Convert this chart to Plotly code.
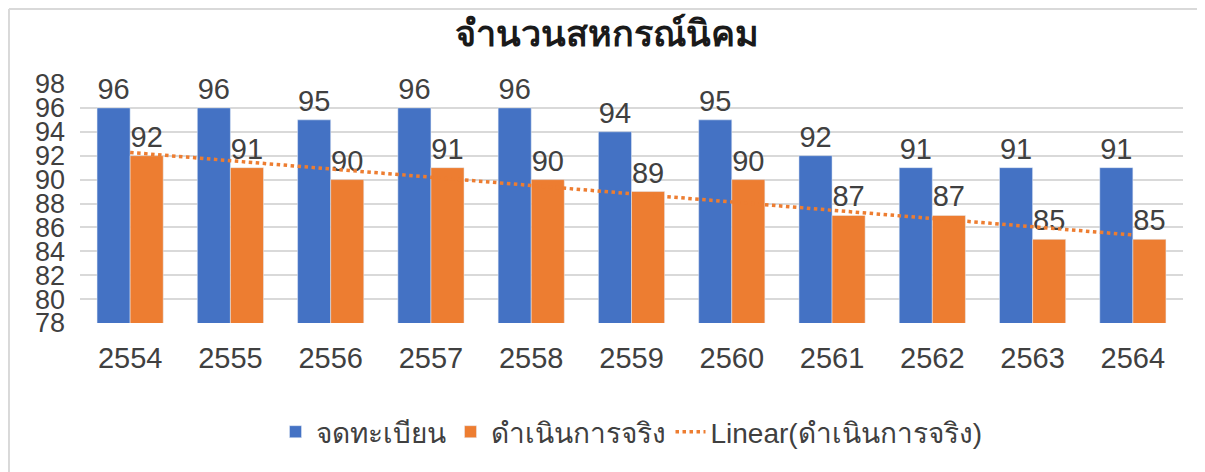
import numpy as np
import plotly.graph_objects as go

years = ["2554", "2555", "2556", "2557", "2558", "2559", "2560", "2561", "2562", "2563", "2564"]
registered = [96, 96, 95, 96, 96, 94, 95, 92, 91, 91, 91]
operating = [92, 91, 90, 91, 90, 89, 90, 87, 87, 85, 85]

name_reg = "จดทะเบียน"
name_op = "ดำเนินการจริง"
title_text = "จำนวนสหกรณ์นิคม"

# linear trendline computed from the operating series (as Excel does)
xi = np.arange(1, len(operating) + 1)
slope, intercept = np.polyfit(xi, operating, 1)
trend = slope * xi + intercept

FONT = "Liberation Sans, Arial, Noto Sans, sans-serif"
BLUE = "#4472C4"
ORANGE = "#ED7D31"
TXT = "#404040"

fig = go.Figure()
fig.add_trace(go.Bar(x=years, y=registered, name=name_reg, marker_color=BLUE,
                     text=registered, textposition="outside", constraintext="none",
                     textfont=dict(size=29, color=TXT, family=FONT),
                     cliponaxis=False))
fig.add_trace(go.Bar(x=years, y=operating, name=name_op, marker_color=ORANGE,
                     text=operating, textposition="outside", constraintext="none",
                     textfont=dict(size=29, color=TXT, family=FONT),
                     cliponaxis=False))
fig.add_trace(go.Scatter(x=years, y=trend, mode="lines", name="Linear(" + name_op + ")",
                         line=dict(color=ORANGE, width=3.5, dash="dot"), cliponaxis=False))

fig.update_layout(
    width=1197, height=464,
    margin=dict(l=72, r=22, t=76, b=149),
    paper_bgcolor="white", plot_bgcolor="white",
    barmode="group", bargap=0.34, bargroupgap=0,
    font=dict(family=FONT, color=TXT),
    title=dict(text="<b>" + title_text + "</b>", x=0.5, xanchor="center",
               y=0.945, yanchor="middle",
               font=dict(size=36, color="#1a1a1a", family=FONT)),
    legend=dict(orientation="h", x=0.5, xanchor="center", y=-0.456, yanchor="middle",
                font=dict(size=28, color=TXT, family=FONT),
                itemwidth=30, traceorder="normal"),
)
fig.update_yaxes(range=[78, 98], dtick=2, showgrid=True, gridcolor="#D9D9D9", gridwidth=1.5,
                 zeroline=False, showline=False,
                 tickfont=dict(size=27, color=TXT, family=FONT), ticks="", ticklabelstandoff=14)
fig.update_xaxes(showgrid=False, showline=False, ticks="",
                 tickfont=dict(size=29, color=TXT, family=FONT), ticklabelstandoff=15)

# light frame lines (top and left) as in the screenshot
fig.add_shape(type="line", xref="paper", yref="paper", x0=-0.0644, x1=1.02, y0=1.3138, y1=1.3138,
              line=dict(color="#D9D9D9", width=2))
fig.add_shape(type="line", xref="paper", yref="paper", x0=-0.0644, x1=-0.0644, y0=-0.66, y1=1.3138,
              line=dict(color="#D9D9D9", width=2))

fig.write_html("out.html")
